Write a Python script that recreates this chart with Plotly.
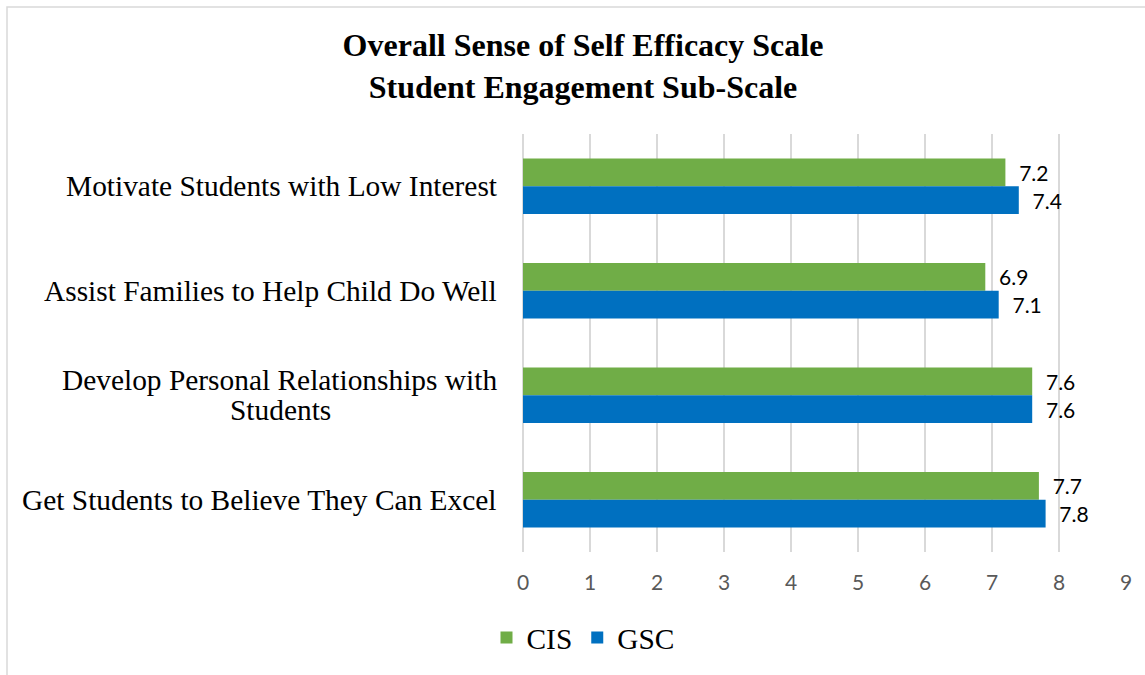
import plotly.graph_objects as go

categories = [
    "Motivate Students with Low Interest",
    "Assist Families to Help Child Do Well",
    "Develop Personal Relationships with<br>Students",
    "Get Students to Believe They Can Excel",
]
cis_values = [7.2, 6.9, 7.6, 7.7]
gsc_values = [7.4, 7.1, 7.6, 7.8]
x_ticks = [0, 1, 2, 3, 4, 5, 6, 7, 8, 9]

GREEN = "#70AD47"
BLUE = "#0070C0"
GRID = "#D9D9D9"
SERIF = "Liberation Serif, Times New Roman, serif"
SANS = "Lato, Carlito, Calibri, sans-serif"

fig = go.Figure()
for name, vals, color in [("CIS", cis_values, GREEN), ("GSC", gsc_values, BLUE)]:
    fig.add_trace(go.Bar(
        name=name,
        y=categories,
        x=vals,
        orientation="h",
        marker=dict(color=color, line=dict(width=0)),
        text=vals,
        texttemplate="  %{x:.1f}",
        textposition="outside",
        textfont=dict(family=SANS, size=21, color="#000000"),
        constraintext="none",
        cliponaxis=False,
    ))

# category labels: first line right-aligned to the axis, extra lines centred under it
LINE_H = 30
for cat in categories:
    lines = cat.split("<br>")
    n = len(lines)
    fig.add_annotation(
        x=0, xref="paper", y=cat, yref="y",
        text=lines[0], showarrow=False,
        xanchor="right", yanchor="middle",
        xshift=-24, yshift=((n - 1) / 2) * LINE_H,
        font=dict(family=SERIF, size=29.4, color="#000000"),
    )
    for i, line in enumerate(lines[1:], start=1):
        fig.add_annotation(
            x=0, xref="paper", y=cat, yref="y",
            text=line, showarrow=False,
            xanchor="center", yanchor="middle",
            xshift=-243, yshift=((n - 1) / 2 - i) * LINE_H,
            font=dict(family=SERIF, size=29.4, color="#000000"),
        )

# light gray chart border
fig.add_shape(
    type="rect", xref="paper", yref="paper",
    x0=(7 - 523) / 603, x1=(1160 - 523) / 603,
    y0=(552 - 690) / 418, y1=(552 - 7) / 418,
    line=dict(color=GRID, width=1.5), fillcolor="rgba(0,0,0,0)",
    layer="below",
)

fig.update_layout(
    width=1145, height=675,
    margin=dict(l=523, r=19, t=134, b=123),
    paper_bgcolor="white", plot_bgcolor="white",
    barmode="group", bargap=0.47, bargroupgap=0,
    title=dict(
        text="<b>Overall Sense of Self Efficacy Scale<br>Student Engagement Sub-Scale</b>",
        x=583 / 1145, xref="container", xanchor="center",
        y=1 - 56 / 675, yref="container", yanchor="middle",
        font=dict(family=SERIF, size=32, color="#000000"),
    ),
    xaxis=dict(
        range=[0, 9], tickvals=x_ticks, ticktext=[str(t) for t in x_ticks],
        showgrid=True, gridcolor=GRID, gridwidth=1.5,
        zeroline=True, zerolinecolor=GRID, zerolinewidth=1.5,
        showline=False, ticks="outside", ticklen=12, tickcolor="rgba(0,0,0,0)",
        tickfont=dict(family=SANS, size=21, color="#595959"),
    ),
    yaxis=dict(
        range=[3.5, -0.5], showticklabels=False, showgrid=False,
        zeroline=False, showline=False,
    ),
    legend=dict(
        orientation="h", xref="container", yref="container",
        x=583 / 1145, xanchor="center", y=1 - 638 / 675, yanchor="middle",
        font=dict(family=SERIF, size=29.4, color="#000000"),
        traceorder="normal",
    ),
    showlegend=True,
)

fig.write_html(
    "out.html",
    config={"displayModeBar": False},
    post_script="document.body.style.margin='0';document.body.style.padding='0';",
)
